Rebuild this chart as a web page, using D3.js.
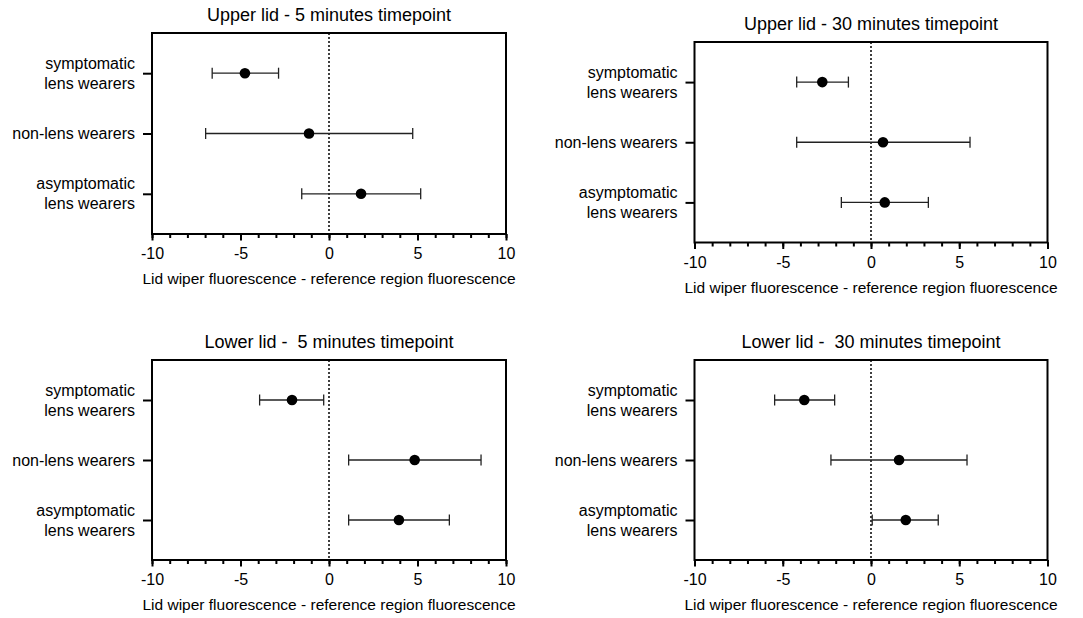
<!doctype html>
<html lang="en">
  <head>
    <meta charset="UTF-8" />
    <title>Lid wiper fluorescence</title>
    <script src="https://unpkg.com/d3@7.9.0/dist/d3.min.js"></script>
    <style>
      body {
        margin: 0;
        background: #fff;
        font-family: 'Liberation Sans', Arial, sans-serif;
      }
      .title {
        font-size: 18px;
        text-anchor: middle;
        white-space: pre;
      }
      .axis-label {
        font-size: 15.5px;
        text-anchor: middle;
      }
      .tick text {
        font-size: 16px;
        font-family: 'Liberation Sans', Arial, sans-serif;
        fill: #000;
      }
      .cat {
        font-size: 16px;
        text-anchor: end;
      }
      .frame {
        fill: none;
        stroke: #000;
        stroke-width: 2;
      }
      .zero {
        stroke: #000;
        stroke-width: 1.5;
        stroke-dasharray: 2, 2;
      }
      .err {
        stroke: #222;
        stroke-width: 1.3;
        fill: none;
      }
    </style>
  </head>
  <body>
    <svg width="1083" height="618"></svg>

    <script>
      // data
      const groups = ['symptomatic', 'non-lens', 'asymptomatic'];
      const groupLabels = [
        ['symptomatic', 'lens wearers'],
        ['non-lens wearers'],
        ['asymptomatic', 'lens wearers'],
      ];
      const panelTitles = [
        'Upper lid - 5 minutes timepoint',
        'Upper lid - 30 minutes timepoint',
        'Lower lid -  5 minutes timepoint',
        'Lower lid -  30 minutes timepoint',
      ];
      const means = [
        [-4.75, -1.13, 1.81],
        [-2.76, 0.68, 0.78],
        [-2.09, 4.84, 3.95],
        [-3.78, 1.59, 1.97],
      ];
      const lower = [
        [-6.6, -6.97, -1.54],
        [-4.21, -4.21, -1.68],
        [-3.92, 1.11, 1.11],
        [-5.46, -2.27, 0.07],
      ];
      const upper = [
        [-2.85, 4.73, 5.18],
        [-1.28, 5.61, 3.25],
        [-0.3, 8.59, 6.8],
        [-2.06, 5.44, 3.81],
      ];
      const xDomain = [-10, 10];
      const majorTicks = [-10, -5, 0, 5, 10];
      const minorTicks = d3.range(-10, 11);
      const xTitle = 'Lid wiper fluorescence - reference region fluorescence';

      // plot box of each panel
      const boxes = [
        { x0: 152, x1: 506, y0: 33, y1: 234 },
        { x0: 694.5, x1: 1047.5, y0: 42, y1: 242.5 },
        { x0: 152, x1: 506, y0: 360, y1: 560 },
        { x0: 694.5, x1: 1047.5, y0: 360, y1: 560 },
      ];

      const svg = d3.select('svg');

      boxes.forEach((b, p) => {
        const g = svg.append('g');

        const x = d3.scaleLinear().domain(xDomain).range([b.x0, b.x1]);
        const y = d3
          .scalePoint()
          .domain(groups)
          .range([b.y0, b.y1])
          .padding(2 / 3);

        // title
        g.append('text')
          .attr('class', 'title')
          .attr('x', (b.x0 + b.x1) / 2)
          .attr('y', b.y0 - 12.5)
          .text(panelTitles[p]);

        // zero line
        g.append('line')
          .attr('class', 'zero')
          .attr('x1', x(0))
          .attr('x2', x(0))
          .attr('y1', b.y0)
          .attr('y2', b.y1);

        // x axis: minor + major ticks
        const minor = g
          .append('g')
          .attr('transform', `translate(0,${b.y1})`)
          .call(
            d3.axisBottom(x).tickValues(minorTicks).tickSize(4).tickFormat(''),
          );
        minor.select('.domain').remove();
        minor.selectAll('line').attr('stroke-width', 2);

        const major = g
          .append('g')
          .attr('transform', `translate(0,${b.y1})`)
          .call(
            d3
              .axisBottom(x)
              .tickValues(majorTicks)
              .tickSize(6.5)
              .tickPadding(4)
              .tickFormat((d) => String(d)),
          );
        major.select('.domain').remove();
        major.selectAll('line').attr('stroke-width', 2);
        major.selectAll('text').attr('dy', null).attr('y', 25);

        // y axis ticks
        const ya = g
          .append('g')
          .attr('transform', `translate(${b.x0},0)`)
          .call(d3.axisLeft(y).tickSize(9).tickFormat(''));
        ya.select('.domain').remove();
        ya.selectAll('line').attr('stroke-width', 2);

        // category labels
        groups.forEach((grp, i) => {
          const lines = groupLabels[i];
          const t = g
            .append('text')
            .attr('class', 'cat')
            .attr('x', b.x0 - 17)
            .attr('y', y(grp) + 5.5 - (lines.length - 1) * 10);
          lines.forEach((l, k) => {
            t.append('tspan')
              .attr('x', b.x0 - 17)
              .attr('dy', k === 0 ? 0 : 20)
              .text(l);
          });
        });

        // frame
        g.append('rect')
          .attr('class', 'frame')
          .attr('x', b.x0)
          .attr('y', b.y0)
          .attr('width', b.x1 - b.x0)
          .attr('height', b.y1 - b.y0);

        // error bars and means
        groups.forEach((grp, i) => {
          const cy = y(grp);
          const lo = x(lower[p][i]);
          const hi = x(upper[p][i]);
          g.append('line')
            .attr('class', 'err')
            .attr('x1', lo)
            .attr('x2', hi)
            .attr('y1', cy)
            .attr('y2', cy);
          [lo, hi].forEach((cx) => {
            g.append('line')
              .attr('class', 'err')
              .attr('x1', cx)
              .attr('x2', cx)
              .attr('y1', cy - 5.5)
              .attr('y2', cy + 5.5);
          });
          g.append('circle')
            .attr('cx', x(means[p][i]))
            .attr('cy', cy)
            .attr('r', 5.3)
            .attr('fill', '#000');
        });

        // x axis title
        g.append('text')
          .attr('class', 'axis-label')
          .attr('x', (b.x0 + b.x1) / 2)
          .attr('y', b.y1 + 50)
          .text(xTitle);
      });
    </script>
  </body>
</html>
